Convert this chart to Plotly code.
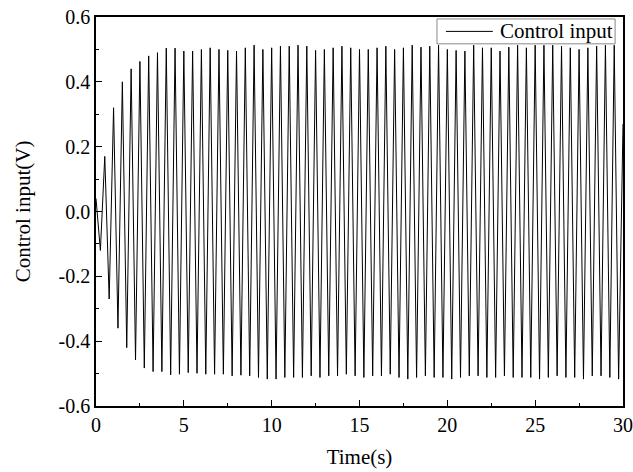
import numpy as np
import plotly.graph_objects as go

# ---- data (extrema of the oscillating control input) ----
start_time = [0.0]
start_value = [0.04]

# local maxima at t = 0.5, 1.0, ..., 29.5 s
top_values = [0.17, 0.32, 0.40, 0.44, 0.463, 0.48, 0.49, 0.504, 0.504,
              0.495, 0.495, 0.500, 0.505, 0.500, 0.497, 0.495, 0.505, 0.513, 0.500,
              0.505, 0.510, 0.510, 0.513, 0.510, 0.497, 0.500, 0.505, 0.510, 0.505,
              0.500, 0.500, 0.505, 0.510, 0.500, 0.505, 0.513, 0.507, 0.510, 0.513,
              0.500, 0.497, 0.495, 0.513, 0.505, 0.505, 0.495, 0.507, 0.513, 0.505,
              0.513, 0.513, 0.513, 0.510, 0.505, 0.500, 0.505, 0.510, 0.513, 0.513]
top_times = np.arange(1, len(top_values) + 1) * 0.5

# local minima at t = 0.25, 0.75, ..., 29.75 s
trough_values = [-0.12, -0.27, -0.36, -0.42, -0.458, -0.483, -0.494, -0.494, -0.504,
                 -0.502, -0.497, -0.499, -0.502, -0.502, -0.502, -0.507, -0.505, -0.507, -0.512,
                 -0.517, -0.517, -0.512, -0.512, -0.512, -0.507, -0.512, -0.507, -0.507, -0.502,
                 -0.507, -0.512, -0.507, -0.507, -0.502, -0.512, -0.517, -0.512, -0.507, -0.512,
                 -0.512, -0.517, -0.512, -0.507, -0.507, -0.512, -0.512, -0.507, -0.512, -0.512,
                 -0.512, -0.517, -0.512, -0.507, -0.512, -0.512, -0.517, -0.507, -0.507, -0.512,
                 -0.517]
trough_times = np.arange(len(trough_values)) * 0.5 + 0.25

end_time = [30.0]
end_value = [0.27]

series_name = "Control input"
y_tick_vals = [-0.6, -0.4, -0.2, 0.0, 0.2, 0.4, 0.6]
y_tick_text = ["-0.6", "-0.4", "-0.2", "0.0", "0.2", "0.4", "0.6"]
x_tick_vals = [0, 5, 10, 15, 20, 25, 30]

# merge extrema in time order
t_all = np.concatenate([start_time, top_times, trough_times, end_time])
v_all = np.concatenate([start_value, top_values, trough_values, end_value])
order = np.argsort(t_all, kind="stable")
t_all = t_all[order]
v_all = v_all[order]

FONT = "Liberation Serif"

fig = go.Figure()
fig.add_trace(go.Scatter(
    x=t_all, y=v_all, mode="lines", name=series_name,
    line=dict(color="black", width=1), showlegend=False,
))

# legend box drawn like the original (white box, grey border, short line sample)
fig.add_shape(type="rect", xref="paper", yref="paper",
              x0=0.647, x1=0.985, y0=0.931, y1=0.995,
              line=dict(color="#888888", width=1), fillcolor="white", layer="above")
fig.add_shape(type="line", xref="paper", yref="paper",
              x0=0.664, x1=0.753, y0=0.963, y1=0.963,
              line=dict(color="black", width=1), layer="above")
fig.add_annotation(xref="paper", yref="paper", x=0.762, y=0.963,
                   xanchor="left", yanchor="middle", showarrow=False,
                   text=series_name, font=dict(family=FONT, size=21, color="black"))

fig.update_layout(
    width=633, height=472,
    margin=dict(l=96, r=10, t=17, b=66),
    paper_bgcolor="white", plot_bgcolor="white",
    font=dict(family=FONT, size=20, color="black"),
    showlegend=False,
)

fig.update_xaxes(
    range=[0, 30], tickvals=x_tick_vals,
    showline=True, linecolor="black", linewidth=1.5, mirror=True,
    ticks="inside", ticklen=6, tickwidth=1.2, tickcolor="black",
    minor=dict(dtick=2.5, ticks="inside", ticklen=3, tickwidth=1.2, tickcolor="black"),
    showgrid=False, zeroline=False, automargin=False,
    tickfont=dict(family=FONT, size=20),
    title=dict(text="Time(s)", font=dict(family=FONT, size=21), standoff=15),
)
fig.update_yaxes(
    range=[-0.6, 0.6], tickvals=y_tick_vals, ticktext=y_tick_text,
    showline=True, linecolor="black", linewidth=1.5, mirror=True,
    ticks="inside", ticklen=6, tickwidth=1.2, tickcolor="black",
    minor=dict(dtick=0.1, ticks="inside", ticklen=3, tickwidth=1.2, tickcolor="black"),
    showgrid=False, zeroline=False, automargin=False,
    tickfont=dict(family=FONT, size=20),
    title=dict(text="Control input(V)", font=dict(family=FONT, size=21), standoff=22),
)

fig.write_html("out.html")
